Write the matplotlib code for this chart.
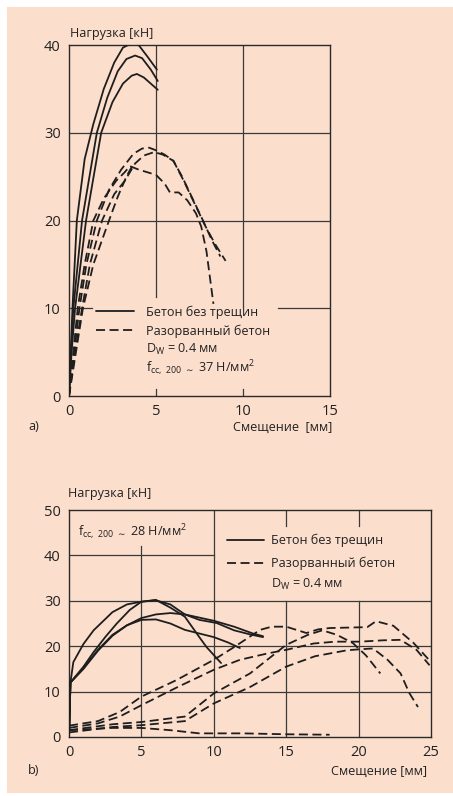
import matplotlib
matplotlib.use("Agg")
import matplotlib.pyplot as plt
from matplotlib.patches import Rectangle

plt.rcParams['font.family'] = ['Open Sans', 'DejaVu Sans']
plt.rcParams['font.size'] = 9

PEACH = '#fcdecd'
INK = '#1e1e1e'
TXT = '#222222'
FS = 9.1

# ---- panel a data (displacement mm, load kN)
a_solid1_x = [0, 0.1, 0.2, 0.45, 0.9, 1.4, 2.0, 2.6, 3.1, 3.6, 4.0, 4.5, 5.05]
a_solid1_y = [0, 5, 10, 20, 27, 31, 35, 38, 39.7, 40.2, 40.0, 38.7, 37.2]
a_solid2_x = [0, 0.12, 0.25, 0.75, 1.6, 2.2, 2.8, 3.3, 3.8, 4.2, 4.7, 5.1]
a_solid2_y = [0, 5, 10, 20, 30, 34, 37, 38.4, 38.8, 38.5, 37.2, 35.9]
a_solid3_x = [0, 0.15, 0.35, 0.98, 1.85, 2.5, 3.1, 3.6, 3.9, 4.3, 4.7, 5.1]
a_solid3_y = [0, 5, 10, 20, 30, 33.5, 35.6, 36.5, 36.7, 36.3, 35.6, 34.9]

a_dash1_x = [0, 0.3, 0.6, 1.0, 1.6, 2.3, 3.0, 3.7, 4.2, 4.6, 5.0, 5.5, 6.0, 6.6, 7.2, 7.8, 8.4, 9.0]
a_dash1_y = [0, 5, 10, 15, 20, 23.5, 25.8, 27.6, 28.2, 28.3, 28.0, 27.5, 26.8, 24.5, 22.0, 19.5, 17.3, 15.4]
a_dash2_x = [0, 0.35, 0.75, 1.2, 1.9, 2.6, 3.2, 3.8, 4.3, 4.9, 5.4, 6.0, 6.5, 7.1, 7.7, 8.2, 8.7]
a_dash2_y = [0, 5, 10, 15, 20, 23, 24.5, 26.5, 27.4, 27.8, 27.5, 26.8, 25.0, 22.5, 20.0, 17.8, 15.9]
a_dash3_x = [0, 0.25, 0.5, 0.9, 1.4, 2.0, 2.7, 3.2, 3.5, 4.0, 4.5, 5.0, 5.5, 5.8, 6.3, 6.8, 7.3, 7.6, 7.9, 8.1, 8.3]
a_dash3_y = [0, 5, 10, 15, 20, 22.5, 24.5, 25.5, 26.2, 25.8, 25.5, 25.2, 24.2, 23.2, 23.2, 22.3, 20.8, 19.3, 16.5, 13.5, 10.5]
a_dash4_x = [0, 0.4, 0.8, 1.4, 2.3, 2.8, 3.3, 3.6]
a_dash4_y = [0, 5, 10, 15, 20, 22.7, 25.0, 26.1]

# ---- panel b data
b_solid1_x = [0, 0.1, 0.3, 1.0, 1.7, 3.0, 4.0, 5.0, 6.0, 7.0, 8.0, 9.0, 9.5, 10.5]
b_solid1_y = [0, 12, 16.5, 20.5, 23.5, 27.5, 29.2, 29.8, 30.2, 28.5, 26.5, 22.0, 19.8, 16.3]
b_solid2_x = [0, 0.1, 1.0, 1.7, 2.5, 3.3, 4.2, 5.0, 6.0, 7.0, 8.0, 9.0, 10.2, 11.4, 12.5, 13.4]
b_solid2_y = [0, 12, 15.5, 18.7, 22.0, 25.0, 28.0, 29.8, 30.1, 29.2, 27.0, 25.8, 25.1, 23.5, 22.6, 22.0]
b_solid3_x = [0, 0.1, 1, 2, 3, 4, 5, 6, 7, 8, 9, 10, 11.4, 12.7, 13.4]
b_solid3_y = [0, 12, 15, 19, 22.3, 24.6, 26.2, 27, 27.3, 27, 26.3, 25.6, 24.3, 22.8, 22.2]
b_solid4_x = [0, 0.1, 1, 2, 3, 4, 5, 6, 7, 8, 9, 10, 11, 11.8]
b_solid4_y = [0, 12, 15.2, 19.2, 22.5, 24.6, 25.8, 25.9, 25.0, 23.6, 22.8, 22.0, 20.8, 19.6]

b_dash1_x = [0, 2, 3.5, 5, 7.4, 10, 11.4, 13.2, 14, 15, 16.4, 17.2, 18, 20.6, 21.2, 22.4, 23.8, 25]
b_dash1_y = [2.5, 3.5, 5.5, 8.9, 12.5, 17, 19.8, 23.6, 24.3, 24.3, 22.9, 23.7, 24, 24.2, 25.5, 24.5, 20.7, 16.5]
b_dash2_x = [0, 2, 3.5, 5, 7.5, 10, 11.8, 13.7, 15, 16.9, 18.4, 20.1, 21.7, 22.9, 24, 24.9]
b_dash2_y = [2, 3, 4.5, 7, 11, 14.8, 17, 18.4, 19.2, 20.6, 21, 21, 21.3, 21.4, 19.2, 15.8]
b_dash3_x = [0, 3, 5, 8, 10, 12.5, 15, 16.5, 17.5, 18.5, 19.6, 20.5, 21.5]
b_dash3_y = [1.5, 2.8, 3.3, 4.5, 9.6, 14, 20.3, 22.5, 23.5, 22.5, 20.7, 18, 14]
b_dash4_x = [0, 3, 5, 8, 10, 12.5, 15, 17, 19.2, 20, 21, 22, 22.9, 23.5, 24.1]
b_dash4_y = [1, 2.2, 2.6, 3.5, 7.4, 11, 15.5, 17.8, 19.1, 19.3, 19.5, 17, 14, 9.7, 6.6]
b_dash5_x = [0, 3, 5, 7, 9, 12, 15, 18]
b_dash5_y = [1.5, 2, 2, 1.5, 0.8, 0.8, 0.6, 0.5]

fig = plt.figure(figsize=(4.53, 7.96), dpi=100)
fig.patch.set_facecolor('white')
fig.patches.append(Rectangle((7 / 453, 0.004), 1, 1 - 7 / 796 - 0.004,
                             transform=fig.transFigure, facecolor=PEACH,
                             edgecolor='none', zorder=-10))

solid = dict(color=INK, lw=1.3, solid_capstyle='round')
dashed = dict(color=INK, lw=1.3, linestyle=(0, (5, 2.5)))
gridkw = dict(color='#3a3a3a', lw=0.9, zorder=1)


def style_axes(ax):
    ax.set_facecolor(PEACH)
    for s in ax.spines.values():
        s.set_color('#2a2a2a')
        s.set_linewidth(1.0)
    ax.tick_params(length=0, pad=6, labelsize=10.5, colors=TXT)


def ftext(px, py, s, **kw):
    # place text by pixel position measured from the top-left of the picture
    fig.text(px / 453, 1 - py / 796, s, fontsize=FS, va='center', color=TXT, **kw)


# ---------------- panel a
ax = fig.add_axes([69 / 453, 1 - 396 / 796, 261 / 453, 351 / 796])
style_axes(ax)
ax.set_xlim(0, 15)
ax.set_ylim(0, 40)
ax.set_xticks([0, 5, 10, 15])
ax.set_yticks([0, 10, 20, 30, 40])

ax.axhline(30, **gridkw)
ax.axhline(20, **gridkw)
ax.axhline(10, xmax=1.3 / 15, **gridkw)
ax.axhline(10, xmin=12 / 15, **gridkw)
ax.axvline(5, ymin=11.3 / 40, **gridkw)
ax.axvline(10, ymin=10 / 40, **gridkw)
ax.axvline(5, ymax=0.02, **gridkw)
ax.axvline(10, ymax=0.02, **gridkw)

for x, y in [(a_solid1_x, a_solid1_y), (a_solid2_x, a_solid2_y), (a_solid3_x, a_solid3_y)]:
    ax.plot(x, y, **solid, zorder=3)
for x, y in [(a_dash1_x, a_dash1_y), (a_dash2_x, a_dash2_y),
             (a_dash3_x, a_dash3_y), (a_dash4_x, a_dash4_y)]:
    ax.plot(x, y, **dashed, zorder=3)

h1, = ax.plot([], [], **solid)
h2, = ax.plot([], [], **dashed)
ax.legend([h1, h2], ['Бетон без трещин', 'Разорванный бетон'],
          loc='upper left', bbox_to_anchor=(0.102, 0.258), frameon=False,
          handlelength=3.0, handletextpad=0.95, labelspacing=0.45,
          borderpad=0, borderaxespad=0, fontsize=FS, labelcolor=TXT)
ftext(146, 349, r'D$_\mathregular{W}$ = 0.4 мм')
ftext(146, 368, r'f$_{\mathregular{cc,\ 200}\ \sim}$ 37 Н/мм$^\mathregular{2}$')

ftext(70, 33, 'Нагрузка [кН]')
ftext(332, 427, 'Смещение  [мм]', ha='right')
ftext(28, 427, 'a)')

# ---------------- panel b
bx = fig.add_axes([69 / 453, 1 - 737 / 796, 362 / 453, 227 / 796])
style_axes(bx)
bx.set_xlim(0, 25)
bx.set_ylim(0, 50)
bx.set_xticks([0, 5, 10, 15, 20, 25])
bx.set_yticks([0, 10, 20, 30, 40, 50])

bx.axhline(40, xmax=0.4, **gridkw)
bx.axhline(30, **gridkw)
bx.axhline(20, **gridkw)
bx.axhline(10, **gridkw)
bx.axvline(5, ymax=42 / 50, **gridkw)
bx.axvline(10, **gridkw)
for gx in (15, 20):
    bx.axvline(gx, ymax=0.6, **gridkw)
    bx.axvline(gx, ymin=0.93, **gridkw)

for x, y in [(b_solid1_x, b_solid1_y), (b_solid2_x, b_solid2_y),
             (b_solid3_x, b_solid3_y), (b_solid4_x, b_solid4_y)]:
    bx.plot(x, y, **solid, zorder=3)
for x, y in [(b_dash1_x, b_dash1_y), (b_dash2_x, b_dash2_y), (b_dash3_x, b_dash3_y),
             (b_dash4_x, b_dash4_y), (b_dash5_x, b_dash5_y)]:
    bx.plot(x, y, **dashed, zorder=3)

g1, = bx.plot([], [], **solid)
g2, = bx.plot([], [], **dashed)
bx.legend([g1, g2], ['Бетон без трещин', 'Разорванный бетон'],
          loc='upper left', bbox_to_anchor=(0.437, 0.895), frameon=False,
          handlelength=2.9, handletextpad=0.6, labelspacing=0.75,
          borderpad=0, borderaxespad=0, fontsize=FS, labelcolor=TXT)
ftext(271, 584, r'D$_\mathregular{W}$ = 0.4 мм')
ftext(78, 532, r'f$_{\mathregular{cc,\ 200}\ \sim}$ 28 Н/мм$^\mathregular{2}$')

ftext(68, 493, 'Нагрузка [кН]')
ftext(427, 771, 'Смещение [мм]', ha='right')
ftext(28, 771, 'b)')

fig.savefig('out.png', dpi=100, facecolor=fig.get_facecolor())
